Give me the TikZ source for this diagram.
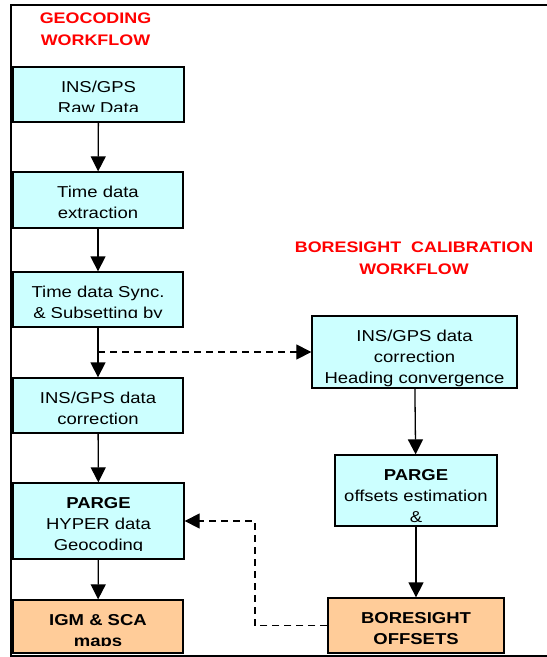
\documentclass[tikz,border=0pt]{standalone}
\usepackage{fontspec}
\setmainfont{Liberation Sans}[FakeStretch=1.17]
\usetikzlibrary{arrows.meta}
\definecolor{boxcyan}{HTML}{CCFFFF}
\definecolor{boxorange}{HTML}{FFCC99}
\definecolor{titlered}{HTML}{FF0000}
\tikzset{
  boxshape/.style={draw, line width=1.3pt, rectangle, inner sep=0pt},
  boxlabel/.style={inner sep=0pt, anchor=base, font=\fontsize{15.8}{21}\selectfont},
  titlelbl/.style={inner sep=0pt, anchor=base, text=titlered, font=\fontsize{15.3}{22}\selectfont\bfseries},
  flow/.style={-{Triangle[length=15pt,width=15pt]}, line width=1.3pt},
  dashline/.style={-{Triangle[length=15pt,width=15pt]}, line width=1.2pt, dash pattern=on 7pt off 5pt},
}
% name, x1, y1, x2, y2, fill, text clip bottom, text
\newcommand\flowbox[8]{%
  \node[boxshape, fill=#6, minimum width={(#4-#2)*1pt}, minimum height={(#5-#3)*1pt}] (#1) at ({(#2+#4)/2},{(#3+#5)/2}) {};
  \begin{scope}
    \clip (#2+1,#3+1) rectangle (#4-1,#7);
    \node[boxlabel] (#1-t) at ({(#2+#4)/2},#3+25.5) {\begin{tabular}[t]{@{}c@{}}#8\end{tabular}};
  \end{scope}}
\begin{document}
\begin{tikzpicture}[x=1pt,y=-1pt]
\useasboundingbox (0,0) rectangle (547,657);
% outer frame
\draw[line width=1.5pt] (560,5) -- (11,5) -- (11,656) -- (560,656);
% titles
\node[titlelbl] (geotitle) at (95.5,23) {\begin{tabular}[t]{@{}c@{}}GEOCODING\\WORKFLOW\end{tabular}};
\node[titlelbl] (boretitle) at (414,252) {\begin{tabular}[t]{@{}c@{}}BORESIGHT\ \ CALIBRATION\\WORKFLOW\end{tabular}};
% left column
\flowbox{b1}{13}{67}{184}{122}{boxcyan}{111.5}{INS/GPS\\Raw Data}
\flowbox{b2}{13}{172}{183}{228}{boxcyan}{226}{Time data\\extraction}
\flowbox{b3}{13}{272}{183}{327}{boxcyan}{317}{Time data Sync.\\\& Subsetting by}
\flowbox{b4}{13}{378}{183}{433}{boxcyan}{431}{INS/GPS data\\correction}
\flowbox{b5}{13}{483}{184}{559}{boxcyan}{550}{\textbf{PARGE}\\HYPER data\\Geocoding}
\flowbox{b6}{13}{600}{183}{653}{boxorange}{645}{\textbf{IGM \& SCA}\\\textbf{maps}}
% right column
\flowbox{r1}{312}{316}{517}{388}{boxcyan}{386}{INS/GPS data\\correction\\Heading convergence}
\flowbox{r2}{335}{455}{497}{526}{boxcyan}{524}{\textbf{PARGE}\\offsets estimation\\\&}
\flowbox{r3}{328}{598}{504}{653}{boxorange}{651}{\textbf{BORESIGHT}\\\textbf{OFFSETS}}
% connectors
\draw[flow] (b1) -- (b2);
\draw[flow] (b2) -- (b3);
\draw[flow] (b3) -- (b4);
\draw[flow] (b4) -- (b5);
\draw[flow] (b5) -- (b6);
\draw[flow] (r1) -- (r2);
\draw[flow] (r2) -- (r3);
\coordinate (split) at (98,352);
\coordinate (bendx) at (255,0);
\draw[dashline] (split) -- (r1.west);
\draw[dashline] (r3.west) -- (r3.west -| bendx) |- (b5.east);
\end{tikzpicture}
\end{document}
